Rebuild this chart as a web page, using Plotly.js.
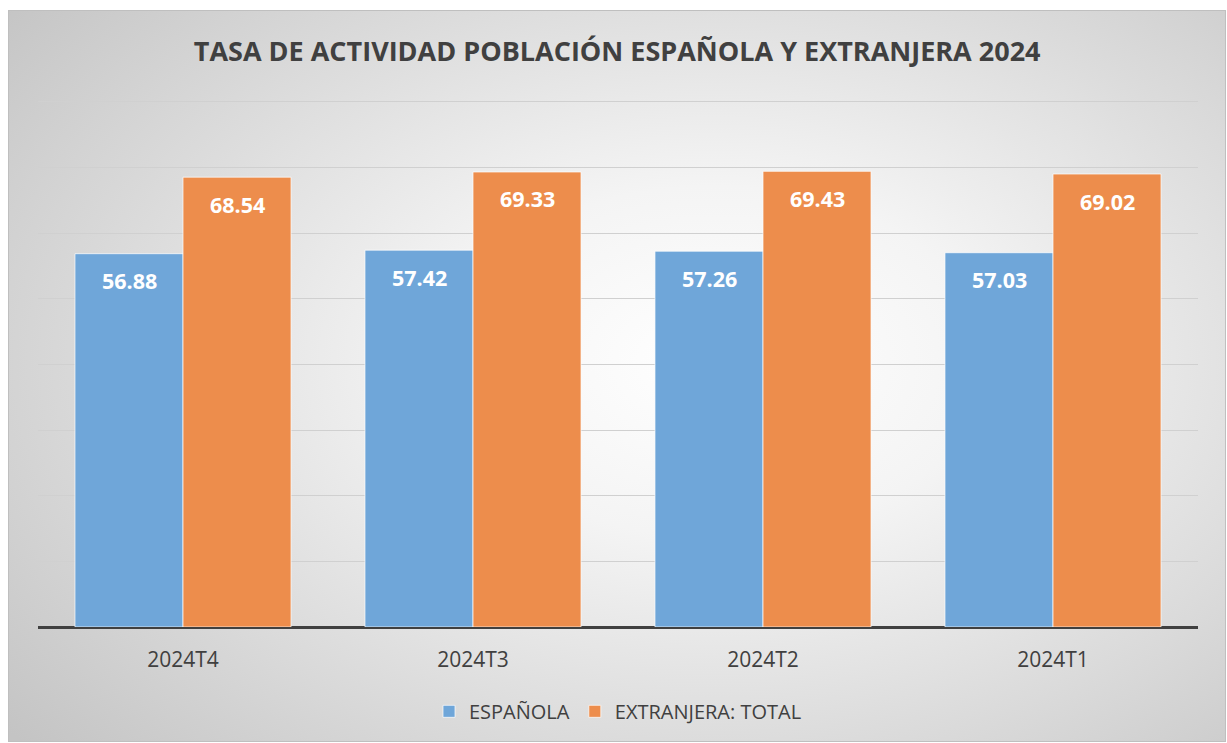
<!DOCTYPE html>
<html>
<head>
<meta charset="utf-8">
<script src="https://cdn.plot.ly/plotly-3.0.1.min.js"></script>
<style>
  html, body { margin:0; padding:0; background:#ffffff; width:1227px; height:743px; overflow:hidden; }
  #bg { position:absolute; left:8px; top:10px; width:1218px; height:732px; box-sizing:border-box;
        border:1px solid #bfbfbf;
        background: radial-gradient(ellipse 75% 80% at 58% 48%, #ffffff 0%, #f4f4f4 30%, #dcdcdc 65%, #c4c4c4 100%); }
  #chart { position:absolute; left:0; top:0; width:1227px; height:743px; }
</style>
</head>
<body>
<div id="bg"></div>
<div id="chart"></div>
<script>
const categories = ["2024T4", "2024T3", "2024T2", "2024T1"];
const espanola = [56.88, 57.42, 57.26, 57.03];
const extranjera = [68.54, 69.33, 69.43, 69.02];
const seriesNames = ["ESPAÑOLA", "EXTRANJERA: TOTAL"];
const titleText = "TASA DE ACTIVIDAD POBLACIÓN ESPAÑOLA Y EXTRANJERA 2024";

const blue = "#6fa6d9";
const orange = "#ed8d4c";
const fontFam = "Open Sans, Noto Sans, sans-serif";

const traces = [
  { type:"bar", name:seriesNames[0], x:categories, y:espanola,
    marker:{color:blue, line:{color:"rgba(255,255,255,0.7)", width:1}}, hoverinfo:"none" },
  { type:"bar", name:seriesNames[1], x:categories, y:extranjera,
    marker:{color:orange, line:{color:"rgba(255,255,255,0.7)", width:1}}, hoverinfo:"none" }
];

const annotations = [];
[espanola, extranjera].forEach((vals, si) => {
  vals.forEach((v, i) => {
    annotations.push({
      x: categories[i], y: v, xref:"x", yref:"y",
      text: v.toFixed(2), showarrow:false,
      xshift: si === 0 ? -54 : 54, yshift: -27,
      font:{family:fontFam, size:21.5, color:"#ffffff", weight:"bold"}
    });
  });
});

const layout = {
  width:1227, height:743,
  paper_bgcolor:"rgba(0,0,0,0)", plot_bgcolor:"rgba(0,0,0,0)",
  margin:{l:38, r:29, t:100, b:116},
  title:{text:"<b>"+titleText+"</b>", x:0.503, xanchor:"center", y:0.93, yanchor:"middle",
         font:{family:fontFam, size:27, color:"#404040"}},
  barmode:"group", bargap:0.255, bargroupgap:0,
  xaxis:{type:"category", showgrid:false, showline:false, ticks:"", ticklabelstandoff:18,
         tickfont:{family:fontFam, size:21, color:"#404040"}, fixedrange:true},
  yaxis:{range:[0,80.3], dtick:10, showticklabels:false, showgrid:true, gridcolor:"#d0d0d0", gridwidth:1,
         zeroline:true, zerolinecolor:"#404040", zerolinewidth:3, showline:false, fixedrange:true},
  showlegend:true,
  legend:{orientation:"h", x:0.5, xanchor:"center", y:-0.16, yanchor:"middle",
          font:{family:fontFam, size:20, color:"#404040"}, bgcolor:"rgba(0,0,0,0)",
          itemwidth:30, traceorder:"normal"},
  annotations: annotations
};

Plotly.newPlot("chart", traces, layout, {displayModeBar:false, staticPlot:true});
</script>
</body>
</html>
